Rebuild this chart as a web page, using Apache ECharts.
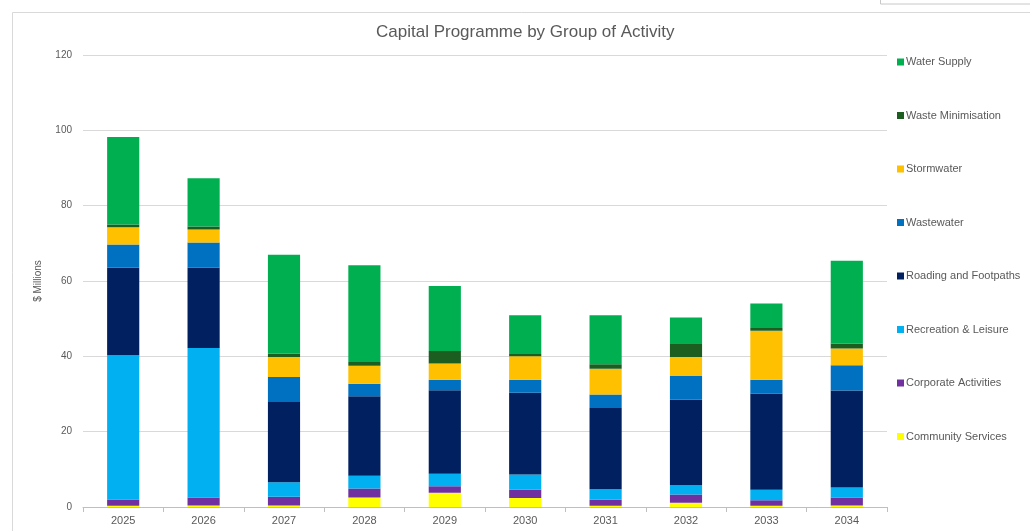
<!DOCTYPE html>
<html>
<head>
<meta charset="utf-8">
<script src="https://cdn.jsdelivr.net/npm/echarts@6/dist/echarts.min.js"></script>
<style>
  html, body { margin: 0; padding: 0; background: #fff; }
  #chart { width: 1030px; height: 531px; }
</style>
</head>
<body>
<div id="chart"></div>
<script>
// Financial years
const years = ['2025', '2026', '2027', '2028', '2029', '2030', '2031', '2032', '2033', '2034'];

// Capital spend per group of activity, $ millions
const communityServices = [0.3, 0.4, 0.4, 2.5, 3.8, 2.4, 0.3, 1.1, 0.3, 0.4];
const corporateActivities = [1.7, 2.1, 2.3, 2.4, 1.7, 2.2, 1.6, 2.2, 1.5, 2.1];
const recreationLeisure = [38.3, 39.7, 3.9, 3.4, 3.3, 4.0, 2.8, 2.5, 2.8, 2.7];
const roadingFootpaths = [23.2, 21.4, 21.5, 21.1, 22.2, 21.7, 21.6, 22.7, 25.5, 25.7];
const wastewater = [6.2, 6.6, 6.4, 3.3, 2.8, 3.5, 3.6, 6.3, 3.7, 6.7];
const stormwater = [4.6, 3.5, 5.3, 4.8, 4.3, 6.2, 6.8, 5.0, 13.0, 4.5];
const wasteMinimisation = [0.7, 0.8, 0.9, 1.0, 3.3, 0.6, 1.2, 3.7, 0.7, 1.3];
const waterSupply = [23.2, 12.8, 26.3, 25.7, 17.3, 10.3, 13.0, 6.8, 6.5, 22.0];

// Y-axis tick range
const yMin = 0, yMax = 120, yStep = 20;

// Stack order, bottom to top
const groups = [
  { name: 'Community Services', data: communityServices, color: '#FFFF00' },
  { name: 'Corporate Activities', data: corporateActivities, color: '#7030A0' },
  { name: 'Recreation & Leisure', data: recreationLeisure, color: '#00B0F0' },
  { name: 'Roading and Footpaths', data: roadingFootpaths, color: '#002060' },
  { name: 'Wastewater', data: wastewater, color: '#0070C0' },
  { name: 'Stormwater', data: stormwater, color: '#FFC000' },
  { name: 'Waste Minimisation', data: wasteMinimisation, color: '#1B5E20' },
  { name: 'Water Supply', data: waterSupply, color: '#00B050' }
];

const textGrey = '#595959';
const font = '"Liberation Sans", Arial, sans-serif';

const chart = echarts.init(document.getElementById('chart'), null, { renderer: 'canvas' });

chart.setOption({
  backgroundColor: '#ffffff',
  animation: false,
  title: {
    text: 'Capital Programme by Group of Activity',
    left: 371,
    top: 19,
    textStyle: { color: textGrey, fontSize: 17, fontWeight: 'normal', fontFamily: font }
  },
  legend: {
    orient: 'vertical',
    left: 892,
    top: 51,
    itemWidth: 7,
    itemHeight: 7,
    itemGap: 41.5,
    icon: 'rect',
    data: groups.slice().reverse().map(g => g.name),
    textStyle: { color: textGrey, fontSize: 11, fontFamily: font, lineHeight: 12, padding: [0, 0, 0, -3] }
  },
  grid: { left: 83, right: 143, top: 55, bottom: 24, containLabel: false },
  xAxis: {
    type: 'category',
    data: years,
    axisLine: { lineStyle: { color: '#bfbfbf' } },
    axisTick: { show: true, length: 5, alignWithLabel: false, lineStyle: { color: '#bfbfbf' } },
    axisLabel: { color: textGrey, fontSize: 11, fontFamily: font, margin: 8 }
  },
  yAxis: {
    type: 'value',
    min: yMin,
    max: yMax,
    interval: yStep,
    name: '$ Millions',
    nameLocation: 'middle',
    nameGap: 40,
    nameTextStyle: { color: textGrey, fontSize: 10, fontFamily: font },
    axisLine: { show: false },
    axisTick: { show: false },
    splitLine: { lineStyle: { color: '#d9d9d9' } },
    axisLabel: { color: textGrey, fontSize: 10, fontFamily: font, margin: 11 }
  },
  series: groups.map(g => ({
    name: g.name,
    type: 'bar',
    stack: 'total',
    data: g.data,
    barWidth: '40%',
    itemStyle: { color: g.color },
    emphasis: { disabled: true }
  })),
  graphic: [
    {
      type: 'rect',
      shape: { x: 12.5, y: 12.5, width: 1040, height: 540 },
      style: { fill: 'none', stroke: '#d9d9d9', lineWidth: 1 },
      silent: true, z: -1
    },
    {
      type: 'rect',
      shape: { x: 880.5, y: -5, width: 160, height: 9 },
      style: { fill: '#ffffff', stroke: '#c8c8c8', lineWidth: 1 },
      silent: true
    }
  ]
});
</script>
</body>
</html>
